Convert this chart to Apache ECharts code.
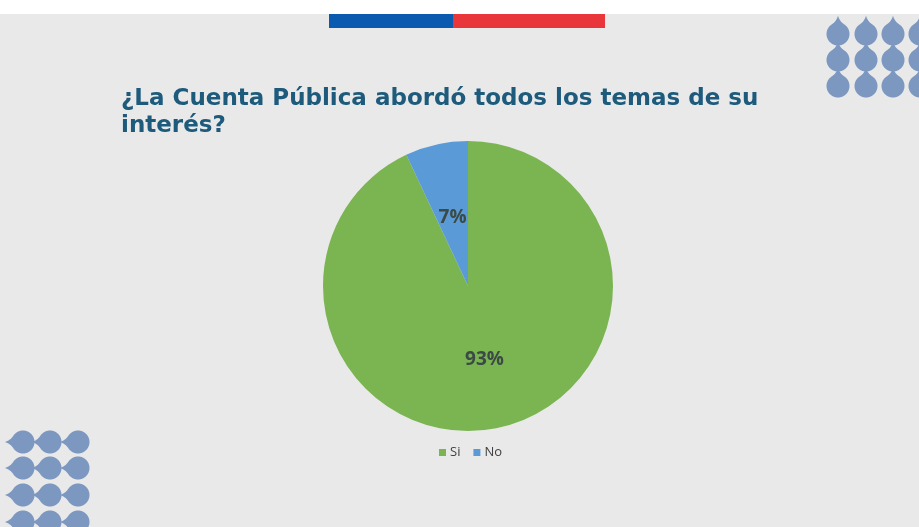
<!DOCTYPE html>
<html><head><meta charset="utf-8">
<script src="https://cdn.jsdelivr.net/npm/echarts@6/dist/echarts.min.js"></script>
<style>html,body{margin:0;padding:0;background:#e9e9e9;}#c{width:919px;height:527px;}</style>
</head><body><div id="c"></div>
<script>
const categories = ['Si', 'No'];
const values = [93, 7];
const colors = ['#7ab551', '#5a9bd7'];
const titleText = '¿La Cuenta Pública abordó todos los temas de su\ninterés?';

function drop(cx, cy, r, dir) {
  // teardrop polygon with a concave pointed tip; tip pointing up or left
  const a0 = 36 * Math.PI / 180, tip = 1.6 * r;
  const loc = [];
  for (let k = 0; k <= 48; k++) {
    const a = a0 + (2 * Math.PI - 2 * a0) * k / 48;
    loc.push([r * Math.sin(a), -r * Math.cos(a)]);
  }
  const pL = [-r * Math.sin(a0), -r * Math.cos(a0)], pR = [r * Math.sin(a0), -r * Math.cos(a0)];
  const T = [0, -tip];
  const q = (p0, p1, p2, t) => [(1 - t) * (1 - t) * p0[0] + 2 * (1 - t) * t * p1[0] + t * t * p2[0],
                                (1 - t) * (1 - t) * p0[1] + 2 * (1 - t) * t * p1[1] + t * t * p2[1]];
  for (let k = 1; k <= 10; k++) loc.push(q(pL, [-0.12 * r, -1.1 * r], T, k / 10));
  for (let k = 1; k < 10; k++) loc.push(q(T, [0.12 * r, -1.1 * r], pR, k / 10));
  const pts = loc.map(([ux, uy]) => dir === 'up' ? [cx + ux, cy + uy] : [cx + uy, cy - ux]);
  return { type: 'polygon', shape: { points: pts }, style: { fill: '#7d98c0' }, silent: true };
}
const deco = [];
[838, 866, 893, 920].forEach(x => [34, 60, 86].forEach(y => deco.push(drop(x, y, 11.5, 'up'))));
[23, 50, 78].forEach(x => [442, 468, 495, 522].forEach(y => deco.push(drop(x, y, 11.5, 'left'))));

const chart = echarts.init(document.getElementById('c'));
chart.setOption({
  backgroundColor: '#e9e9e9',
  graphic: [
    { type: 'rect', shape: { x: 0, y: 0, width: 919, height: 14 }, style: { fill: '#ffffff' }, silent: true },
    { type: 'rect', shape: { x: 329, y: 14, width: 124, height: 14 }, style: { fill: '#0a5bb0' }, silent: true },
    { type: 'rect', shape: { x: 453, y: 14, width: 152, height: 14 }, style: { fill: '#e8363b' }, silent: true }
  ].concat(deco),
  title: {
    text: titleText,
    left: 116, top: 81,
    textStyle: { fontFamily: 'DejaVu Sans', fontWeight: 'bold', fontSize: 23, color: '#1d5a7c', lineHeight: 27 }
  },
  legend: {
    data: categories,
    bottom: 63, left: 434,
    itemWidth: 7, itemHeight: 7, itemGap: 13, icon: 'rect',
    textStyle: { fontFamily: 'Open Sans', fontSize: 13, color: '#404040', padding: [0, 0, 0, -1] }
  },
  series: [{
    type: 'pie',
    center: [468, 286],
    radius: [0, 145],
    startAngle: 90,
    clockwise: true,
    color: colors,
    label: {
      show: true, position: 'inside',
      formatter: '{c}%',
      fontFamily: 'Open Sans', fontWeight: 'bold', fontSize: 19, color: '#3b4a45'
    },
    labelLine: { show: false },
    itemStyle: { borderWidth: 0 },
    emphasis: { disabled: true },
    data: categories.map((n, i) => ({ name: n, value: values[i], label: i === 1 ? { offset: [1, 5] } : {} }))
  }]
});
</script></body></html>
